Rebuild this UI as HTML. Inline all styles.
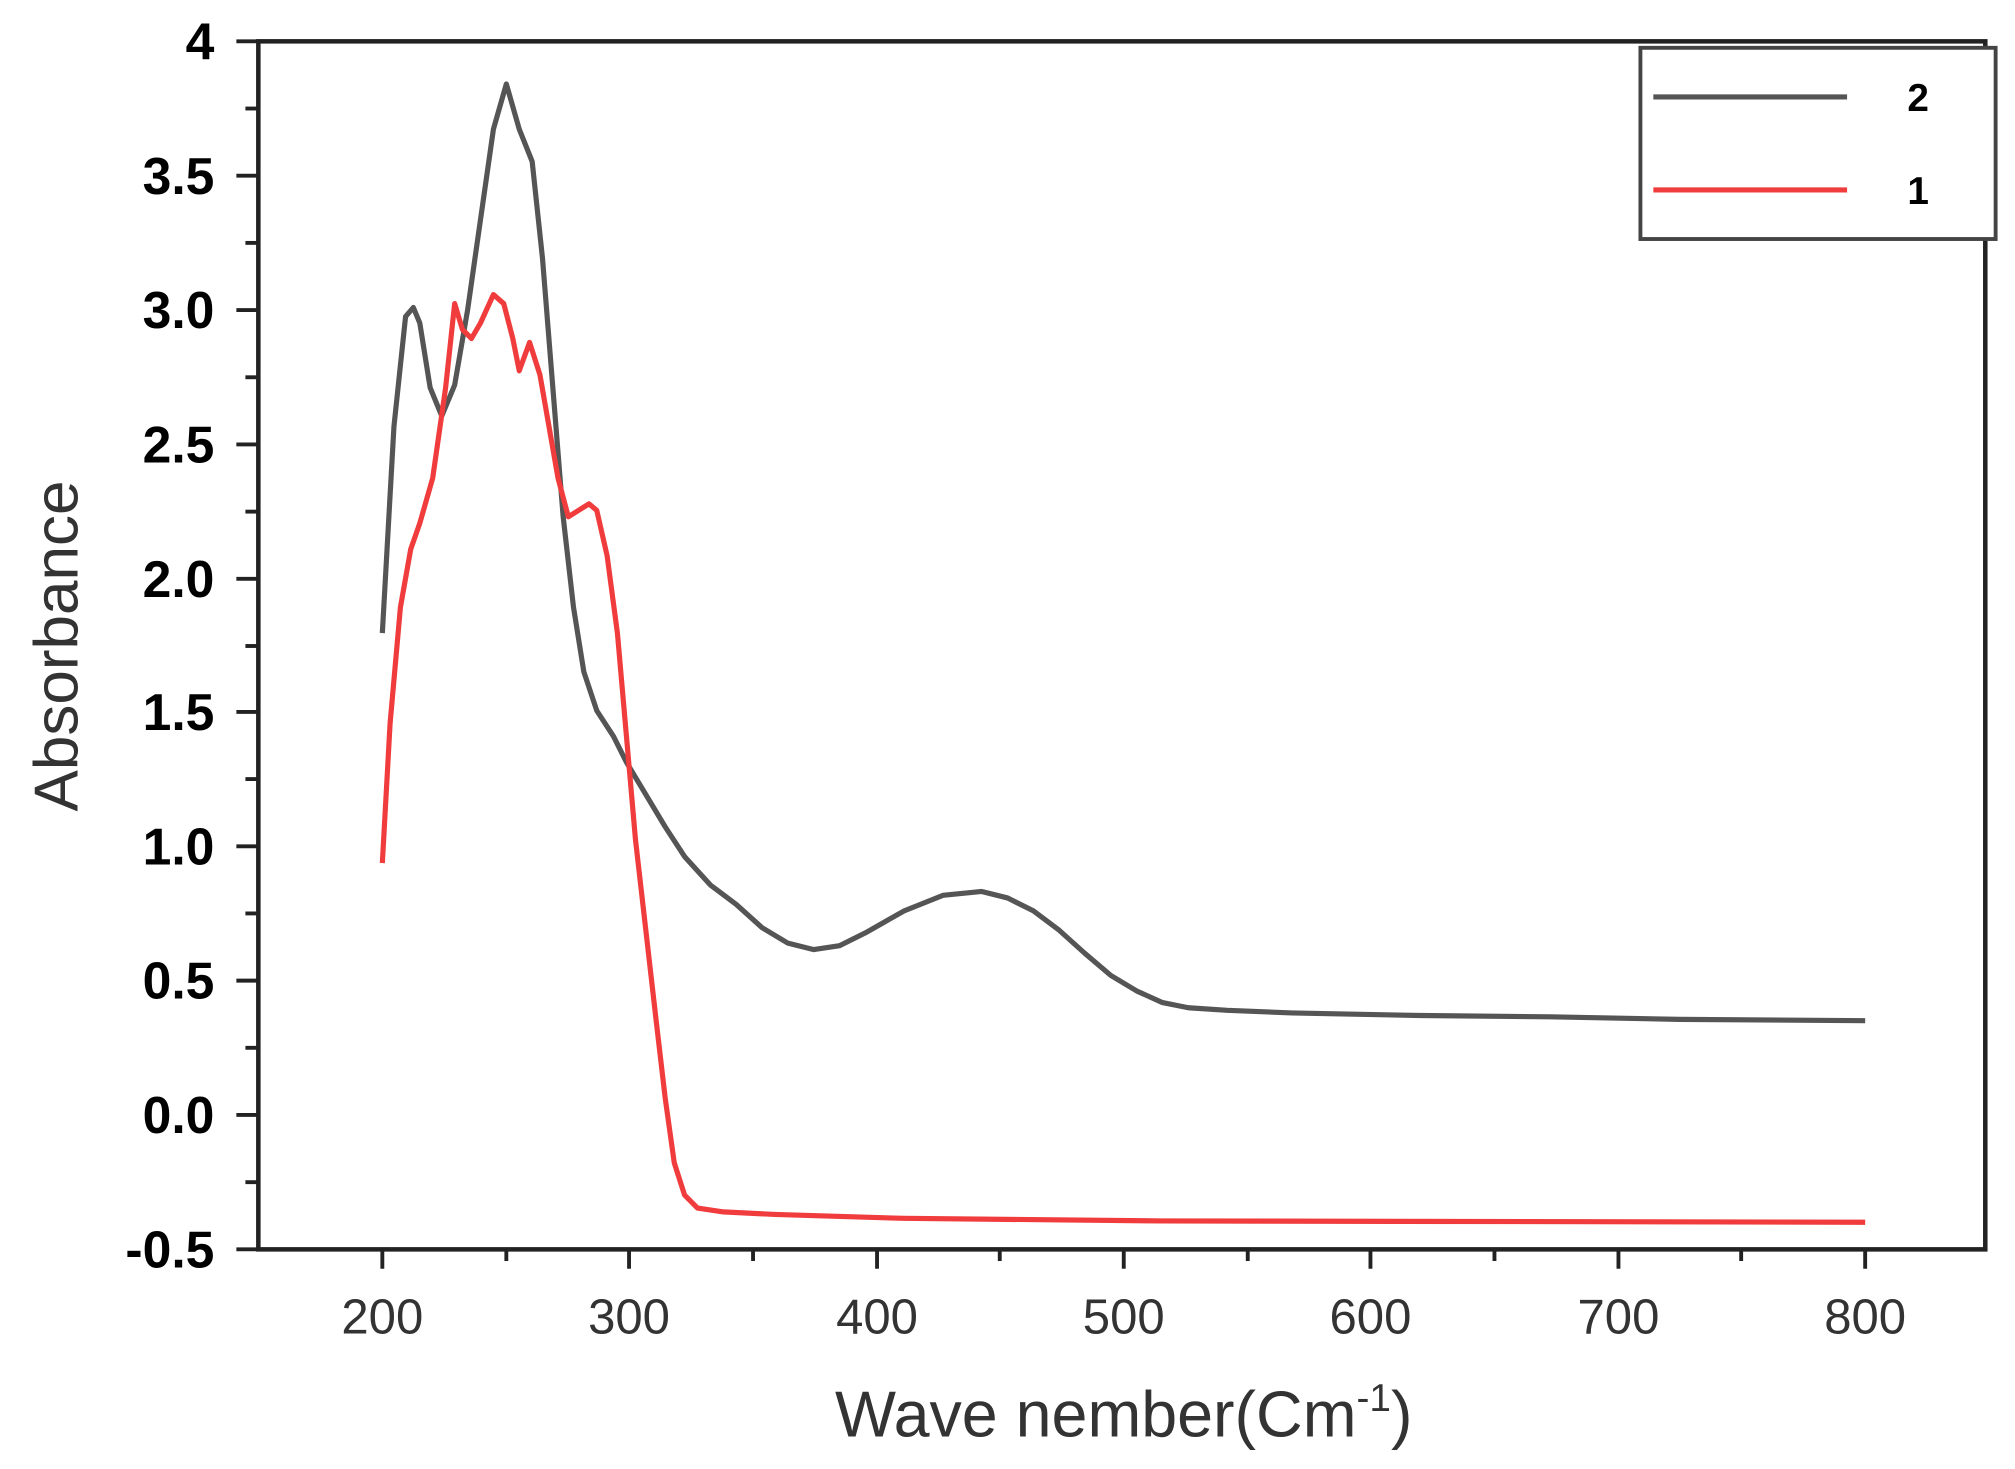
<!DOCTYPE html>
<html><head><style>html,body{margin:0;padding:0;background:#fff}svg{display:block}</style></head>
<body>
<svg width="2015" height="1469" viewBox="0 0 1560 1137" preserveAspectRatio="none" xmlns="http://www.w3.org/2000/svg">
<rect x="0" y="0" width="1560" height="1137" fill="#fff"/>
<rect x="200" y="32" width="1337" height="935" fill="none" stroke="#222" stroke-width="3.5"/>
<g stroke="#222" stroke-width="3">
<line x1="183" y1="32" x2="200" y2="32"/><line x1="183" y1="136" x2="200" y2="136"/><line x1="183" y1="240" x2="200" y2="240"/><line x1="183" y1="344" x2="200" y2="344"/><line x1="183" y1="448" x2="200" y2="448"/><line x1="183" y1="551" x2="200" y2="551"/><line x1="183" y1="655" x2="200" y2="655"/><line x1="183" y1="759" x2="200" y2="759"/><line x1="183" y1="863" x2="200" y2="863"/><line x1="183" y1="967" x2="200" y2="967"/>
<line x1="190" y1="84" x2="200" y2="84"/><line x1="190" y1="188" x2="200" y2="188"/><line x1="190" y1="292" x2="200" y2="292"/><line x1="190" y1="396" x2="200" y2="396"/><line x1="190" y1="500" x2="200" y2="500"/><line x1="190" y1="603" x2="200" y2="603"/><line x1="190" y1="707" x2="200" y2="707"/><line x1="190" y1="811" x2="200" y2="811"/><line x1="190" y1="915" x2="200" y2="915"/>
<line x1="296" y1="967" x2="296" y2="982"/><line x1="487" y1="967" x2="487" y2="982"/><line x1="679" y1="967" x2="679" y2="982"/><line x1="870" y1="967" x2="870" y2="982"/><line x1="1061" y1="967" x2="1061" y2="982"/><line x1="1253" y1="967" x2="1253" y2="982"/><line x1="1444" y1="967" x2="1444" y2="982"/>
<line x1="392" y1="967" x2="392" y2="976"/><line x1="583" y1="967" x2="583" y2="976"/><line x1="774" y1="967" x2="774" y2="976"/><line x1="966" y1="967" x2="966" y2="976"/><line x1="1157" y1="967" x2="1157" y2="976"/><line x1="1348" y1="967" x2="1348" y2="976"/>
</g>
<g font-family="Liberation Sans, sans-serif" font-weight="bold" font-size="40" text-anchor="end" fill="#000">
<text x="166" y="46">4</text><text x="166" y="150">3.5</text><text x="166" y="254">3.0</text><text x="166" y="358">2.5</text><text x="166" y="462">2.0</text><text x="166" y="565">1.5</text><text x="166" y="669">1.0</text><text x="166" y="773">0.5</text><text x="166" y="877">0.0</text><text x="166" y="981">-0.5</text>
</g>
<g font-family="Liberation Sans, sans-serif" font-size="38" text-anchor="middle" fill="#333">
<text x="296" y="1032">200</text><text x="487" y="1032">300</text><text x="679" y="1032">400</text><text x="870" y="1032">500</text><text x="1061" y="1032">600</text><text x="1253" y="1032">700</text><text x="1444" y="1032">800</text>
</g>
<text x="870" y="1112" font-family="Liberation Sans, sans-serif" font-size="50" text-anchor="middle" fill="#333">Wave nember(Cm<tspan font-size="30" dy="-20">-1</tspan><tspan dy="20">)</tspan></text>
<text transform="translate(60,500) rotate(-90)" font-family="Liberation Sans, sans-serif" font-size="48" text-anchor="middle" fill="#333">Absorbance</text>
<polyline fill="none" stroke="#555" stroke-width="4" stroke-linejoin="round" points="296,490 305,330 314,245 320,238 325,250 333,300 342,322 352,298 362,240 372,170 382,100 392,65 402,100 412,125 420,200 428,300 436,400 444,470 452,520 462,550 475,570 485,590 500,615 515,640 530,663 550,685 570,700 590,718 610,730 630,735 650,732 670,722 700,705 730,693 760,690 780,695 800,705 820,720 840,738 860,755 880,767 900,776 920,780 950,782 1000,784 1100,786 1200,787 1300,789 1444,790"/>
<polyline fill="none" stroke="#f03c3c" stroke-width="4" stroke-linejoin="round" points="296,668 302,560 310,470 318,425 325,405 335,370 345,300 352,235 358,255 365,262 372,250 382,228 390,235 397,262 402,287 410,265 418,290 425,330 432,370 440,400 448,395 456,390 462,395 470,430 478,490 485,570 492,650 500,720 508,790 515,850 522,900 530,925 540,935 560,938 600,940 700,943 900,945 1444,946"/>
<rect x="1270" y="37" width="275" height="148" fill="#fff" stroke="#444" stroke-width="3"/>
<line x1="1280" y1="75" x2="1430" y2="75" stroke="#555" stroke-width="4"/>
<line x1="1280" y1="147" x2="1430" y2="147" stroke="#f03c3c" stroke-width="4"/>
<text x="1485" y="86" font-family="Liberation Sans, sans-serif" font-weight="bold" font-size="30" text-anchor="middle">2</text>
<text x="1485" y="158" font-family="Liberation Sans, sans-serif" font-weight="bold" font-size="30" text-anchor="middle">1</text>
</svg>
</body></html>
